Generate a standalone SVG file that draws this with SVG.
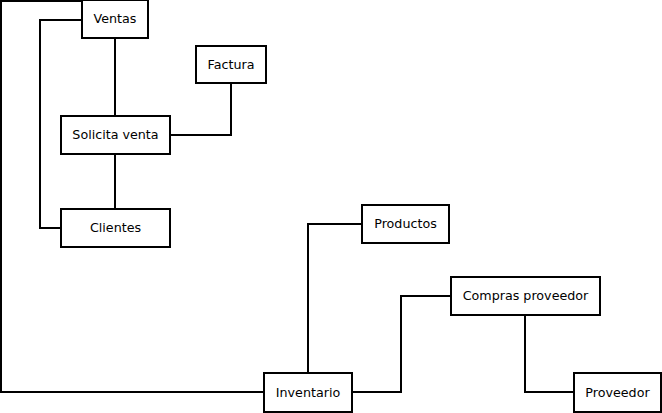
<svg xmlns="http://www.w3.org/2000/svg" width="662" height="413" viewBox="0 0 662 413">
<style>
.box{fill:#fff;stroke:#000;stroke-width:2}
.lbl{font-family:"DejaVu Sans",sans-serif;font-size:12.7px;fill:#000;text-anchor:middle}
.edge{fill:none;stroke:#000;stroke-width:2}
</style>
<rect width="662" height="413" fill="#fff"/>
<g id="connectors">
<polyline class="edge" points="82,1 1,1 1,392 264,392"/>
<polyline class="edge" points="82,20 40,20 40,228 61,228"/>
<line class="edge" x1="115" y1="38" x2="115" y2="116"/>
<line class="edge" x1="115" y1="154" x2="115" y2="209"/>
<polyline class="edge" points="231,83 231,135 170,135"/>
<polyline class="edge" points="308,373 308,224 362,224"/>
<polyline class="edge" points="352,392 401,392 401,296 451,296"/>
<polyline class="edge" points="525,315 525,392 574,392"/>
</g>
<g id="ventas"><rect class="box" x="82" y="0" width="66" height="38"/><text class="lbl" x="115" y="23">Ventas</text></g>
<g id="factura"><rect class="box" x="196" y="46" width="70" height="37"/><text class="lbl" x="231" y="68.5">Factura</text></g>
<g id="solicita"><rect class="box" x="61" y="116" width="109" height="38"/><text class="lbl" x="115.5" y="139">Solicita venta</text></g>
<g id="clientes"><rect class="box" x="61" y="209" width="109" height="38"/><text class="lbl" x="115.5" y="232">Clientes</text></g>
<g id="productos"><rect class="box" x="362" y="205" width="87" height="38"/><text class="lbl" x="405.5" y="228">Productos</text></g>
<g id="compras"><rect class="box" x="451" y="277" width="149" height="38"/><text class="lbl" x="525.5" y="300">Compras proveedor</text></g>
<g id="inventario"><rect class="box" x="264" y="373" width="88" height="39"/><text class="lbl" x="308" y="396.5">Inventario</text></g>
<g id="proveedor"><rect class="box" x="574" y="373" width="87" height="39"/><text class="lbl" x="617.5" y="396.5">Proveedor</text></g>
</svg>
